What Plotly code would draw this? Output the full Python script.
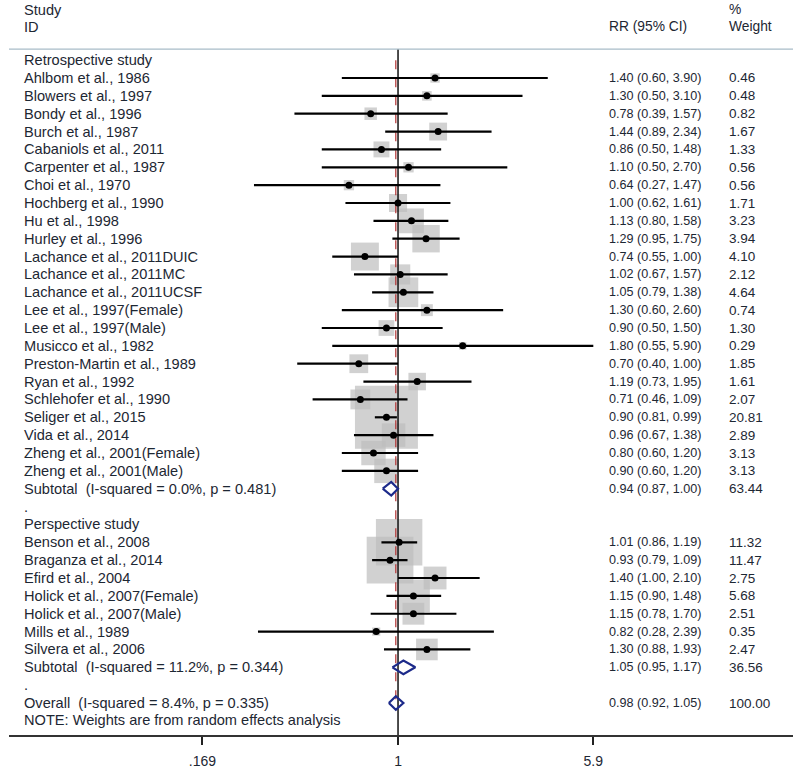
import math
import plotly.graph_objects as go

# ---------------- data ----------------
retro_studies = [
    "Ahlbom et al., 1986", "Blowers et al., 1997", "Bondy et al., 1996", "Burch et al., 1987",
    "Cabaniols et al., 2011", "Carpenter et al., 1987", "Choi et al., 1970", "Hochberg et al., 1990",
    "Hu et al., 1998", "Hurley et al., 1996", "Lachance et al., 2011DUIC", "Lachance et al., 2011MC",
    "Lachance et al., 2011UCSF", "Lee et al., 1997(Female)", "Lee et al., 1997(Male)",
    "Musicco et al., 1982", "Preston-Martin et al., 1989", "Ryan et al., 1992",
    "Schlehofer et al., 1990", "Seliger et al., 2015", "Vida et al., 2014",
    "Zheng et al., 2001(Female)", "Zheng et al., 2001(Male)",
]
retro_rr = [1.40, 1.30, 0.78, 1.44, 0.86, 1.10, 0.64, 1.00, 1.13, 1.29, 0.74, 1.02, 1.05, 1.30, 0.90,
            1.80, 0.70, 1.19, 0.71, 0.90, 0.96, 0.80, 0.90]
retro_lo = [0.60, 0.50, 0.39, 0.89, 0.50, 0.50, 0.27, 0.62, 0.80, 0.95, 0.55, 0.67, 0.79, 0.60, 0.50,
            0.55, 0.40, 0.73, 0.46, 0.81, 0.67, 0.60, 0.60]
retro_hi = [3.90, 3.10, 1.57, 2.34, 1.48, 2.70, 1.47, 1.61, 1.58, 1.75, 1.00, 1.57, 1.38, 2.60, 1.50,
            5.90, 1.00, 1.95, 1.09, 0.99, 1.38, 1.20, 1.20]
retro_w = [0.46, 0.48, 0.82, 1.67, 1.33, 0.56, 0.56, 1.71, 3.23, 3.94, 4.10, 2.12, 4.64, 0.74, 1.30,
           0.29, 1.85, 1.61, 2.07, 20.81, 2.89, 3.13, 3.13]

prosp_studies = [
    "Benson et al., 2008", "Braganza et al., 2014", "Efird et al., 2004",
    "Holick et al., 2007(Female)", "Holick et al., 2007(Male)", "Mills et al., 1989",
    "Silvera et al., 2006",
]
prosp_rr = [1.01, 0.93, 1.40, 1.15, 1.15, 0.82, 1.30]
prosp_lo = [0.86, 0.79, 1.00, 0.90, 0.78, 0.28, 0.88]
prosp_hi = [1.19, 1.09, 2.10, 1.48, 1.70, 2.39, 1.93]
prosp_w = [11.32, 11.47, 2.75, 5.68, 2.51, 0.35, 2.47]

pooled_labels = ["Subtotal  (I-squared = 0.0%, p = 0.481)",
                 "Subtotal  (I-squared = 11.2%, p = 0.344)",
                 "Overall  (I-squared = 8.4%, p = 0.335)"]
pooled_rr = [0.94, 1.05, 0.98]
pooled_lo = [0.87, 0.95, 0.92]
pooled_hi = [1.00, 1.17, 1.05]
pooled_w = [63.44, 36.56, 100.00]

group_titles = ["Retrospective study", "Perspective study"]
note_text = "NOTE: Weights are from random effects analysis"
tick_values = [0.169, 1, 5.9]
tick_labels = [".169", "1", "5.9"]

# ---------------- layout helpers ----------------
W, H = 800, 776
ML, MR, MT, MB = 9, 7, 0, 41
TEXT = "#1d2733"
FONT = "Liberation Sans, Arial, sans-serif"
FS_LBL = 14.6
FS_RR = 12.6
FS_W = 13.5
ln = math.log

retro_rows = list(range(0, len(retro_studies)))
sub1_row = len(retro_studies)
dot1_row = sub1_row + 1
prosp_head_row = dot1_row + 1
prosp_rows = list(range(prosp_head_row + 1, prosp_head_row + 1 + len(prosp_studies)))
sub2_row = prosp_rows[-1] + 1
dot2_row = sub2_row + 1
overall_row = dot2_row + 1
note_row = overall_row + 1
pooled_rows = [sub1_row, sub2_row, overall_row]

studies = retro_studies + prosp_studies
rr = retro_rr + prosp_rr
lo = retro_lo + prosp_lo
hi = retro_hi + prosp_hi
wt = retro_w + prosp_w
rows = retro_rows + prosp_rows

def px_to_paper(px):
    return (px - ML) / (W - ML - MR)

fig = go.Figure()

# weight boxes
fig.add_trace(go.Scatter(
    x=[ln(v) for v in rr], y=rows, mode="markers",
    marker=dict(symbol="square", size=[13.8 * math.sqrt(w) for w in wt],
                color="#bdbdbd", line=dict(width=0)),
    hoverinfo="skip", showlegend=False))

# null line and overall line
fig.add_trace(go.Scatter(x=[0, 0], y=[-1.62, 36.79], mode="lines",
                         line=dict(color="#111111", width=1.5), hoverinfo="skip", showlegend=False))
fig.add_trace(go.Scatter(x=[ln(pooled_rr[2])] * 2, y=[-1.0, overall_row + 0.4], mode="lines",
                         line=dict(color="#b03030", width=1.2, dash="dash"),
                         hoverinfo="skip", showlegend=False))

# confidence intervals
cx, cy = [], []
for l, h, r in zip(lo, hi, rows):
    cx += [ln(l), ln(h), None]
    cy += [r, r, None]
fig.add_trace(go.Scatter(x=cx, y=cy, mode="lines", line=dict(color="black", width=2.2),
                         hoverinfo="skip", showlegend=False))

# point estimates
fig.add_trace(go.Scatter(x=[ln(v) for v in rr], y=rows, mode="markers",
                         marker=dict(symbol="circle", size=7, color="black"),
                         hoverinfo="skip", showlegend=False))

# pooled diamonds
dx, dy = [], []
half = 0.38
for r0, l, h, row in zip(pooled_rr, pooled_lo, pooled_hi, pooled_rows):
    dx += [ln(l), ln(r0), ln(h), ln(r0), ln(l), None]
    dy += [row, row - half, row, row + half, row, None]
fig.add_trace(go.Scatter(x=dx, y=dy, mode="lines", line=dict(color="#1c2a8a", width=2.2),
                         hoverinfo="skip", showlegend=False))

# ---------------- text ----------------
ann = []
def txt(s, px, row, size=FS_LBL, family=FONT):
    ann.append(dict(text=s, x=px_to_paper(px), xref="paper", y=row, yref="y",
                    xanchor="left", yanchor="middle", showarrow=False,
                    font=dict(family=family, size=size, color=TEXT)))

LBL, RRX, WX = 22, 607, 727
txt("Study", LBL, -3.83)
txt("ID", LBL, -2.86)
txt("RR (95% CI)", RRX, -2.86, size=13.8)
txt("%", WX, -3.83, size=13.8)
txt("Weight", WX, -2.86, size=13.8)

txt(group_titles[0], LBL, -1)
txt(group_titles[1], LBL, prosp_head_row)
for s, r, l, h, w, row in zip(studies + pooled_labels, rr + pooled_rr, lo + pooled_lo,
                              hi + pooled_hi, wt + pooled_w, rows + pooled_rows):
    txt(s, LBL, row)
    txt(f"{r:.2f} ({l:.2f}, {h:.2f})", RRX, row, size=FS_RR)
    txt(f"{w:.2f}", WX, row, size=FS_W)
txt(".", LBL, dot1_row)
txt(".", LBL, dot2_row)
txt(note_text, LBL, note_row - 0.05)

fig.update_layout(
    width=W, height=H, margin=dict(l=ML, r=MR, t=MT, b=MB),
    paper_bgcolor="white", plot_bgcolor="white",
    annotations=ann,
    shapes=[dict(type="line", xref="paper", yref="y", x0=0.0, x1=1.0, y0=-1.62, y1=-1.62,
                 line=dict(color="#a8bcc8", width=1.2))],
    xaxis=dict(range=[-3.536, 3.59], showgrid=False, zeroline=False,
               tickvals=[ln(v) for v in tick_values], ticktext=tick_labels,
               ticks="outside", ticklen=8, tickwidth=1.5, tickcolor="#222222",
               ticklabelstandoff=4,
               showline=True, linecolor="#333333", linewidth=1.6,
               tickfont=dict(family=FONT, size=14, color=TEXT)),
    yaxis=dict(range=[36.79, -4.367], visible=False, showgrid=False, zeroline=False),
)

fig.write_html("out.html", config={"displayModeBar": False},
               post_script="document.body.style.margin='0px';document.body.style.overflow='hidden';")
